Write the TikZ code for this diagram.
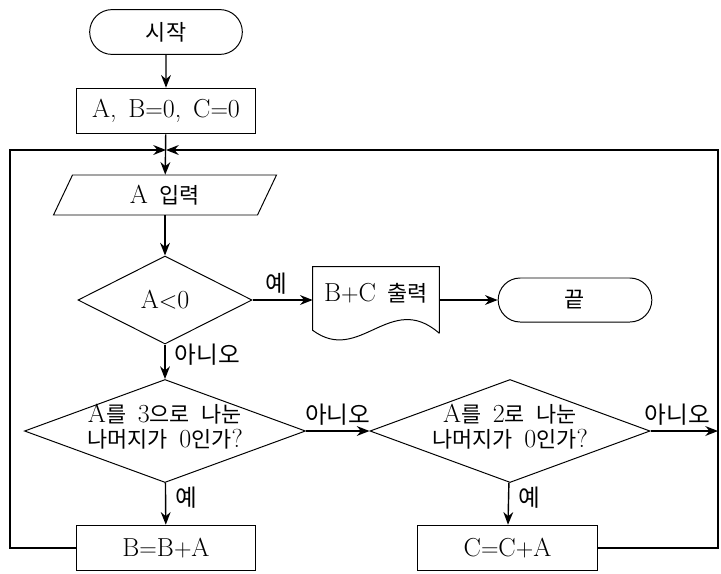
\documentclass[tikz,border=0pt]{standalone}
\usepackage{fontspec}
\setmainfont{Latin Modern Roman}[WordSpace=1.5]
\newfontfamily\kr{Noto Sans CJK KR}[Scale=0.84, WordSpace=1.5]
\newcommand{\hg}[1]{{\kr #1}}
\usepackage{tikz}
\usetikzlibrary{arrows.meta}
\usetikzlibrary{shapes.geometric}
\usetikzlibrary{shapes.misc}
\usetikzlibrary{calc}

\tikzset{
  term/.style={draw, rounded rectangle, line width=0.7pt, minimum width=4.05cm, minimum height=1.12cm},
  proc/.style={draw, rectangle, line width=0.7pt, minimum width=4.475cm, minimum height=1.14cm},
  dec/.style={draw, diamond, line width=0.7pt, inner sep=0pt},
  arr/.style={-{Stealth[length=9pt,width=7pt]}, line width=1pt},
  lbl/.style={font=\fontsize{20}{24}\selectfont\kr}
}

\begin{document}
\begin{tikzpicture}[x=0.025cm, y=-0.025cm, every node/.style={font=\fontsize{18.5}{18}\selectfont}]
        \useasboundingbox (0,0) rectangle (721,573);
        % main column
        \node[term] (start) at (166,32) {\hg{시작}};
        \node[proc] (init) at (166,111) {A, B$=$0, C$=$0};
        \node[minimum width=5.1cm, minimum height=1cm] (inp) at (165,195) {A \hg{입력}};
        \draw[line width=0.7pt] ($(inp)+(-92.5,-20)$) -- ($(inp)+(111.5,-20)$) -- ($(inp)+(92.5,20)$) -- ($(inp)+(-111.5,20)$) -- cycle;
        \node[dec, minimum width=4.35cm, minimum height=2.2cm] (d1) at (165,300) {A$<$0};
        \node[minimum width=3.15cm, minimum height=1.65cm] (out) at (376,300) {};
        \node at (376,293) {B$+$C \hg{출력}};
        \draw[line width=0.7pt] (out.south east) -- (out.north east) -- (out.north west) -- ($(out.south west)+(0,-3)$)
          .. controls ($(out.south west)+(47,32)$) and ($(out.south east)+(-49,-43)$) .. (out.south east);
        \node[term, minimum width=4.075cm, minimum height=1.1cm] (end) at (575,300) {\hg{끝}};
        % remainder tests
        \node[dec, minimum width=7.025cm, minimum height=2.575cm] (d2) at (165,431) {};
        \node[align=center] (q2) at (165,427) {A\hg{를} 3\hg{으로} \hg{나눈}\\\hg{나머지가} 0\hg{인가}?};
        \node[dec, minimum width=7cm, minimum height=2.575cm] (d3) at (510,431) {};
        \node[align=center] (q3) at (510,427) {A\hg{를} 2\hg{로} \hg{나눈}\\\hg{나머지가} 0\hg{인가}?};
        \node[proc] (bsum) at (166,548) {B$=$B$+$A};
        \node[proc] (csum) at (507.5,548) {C$=$C$+$A};
        \coordinate (join) at (166,150);
        \coordinate (loopL) at (10,150);
        \coordinate (loopR) at (718,150);
        \coordinate (exit) at (718,431);
        % connectors
        \draw[arr] (start) -- (init);
        \draw[arr] (init) -- (inp);
        \draw[arr] (inp.south) -- (d1);
        \draw[arr] (d1) -- node[lbl, above, pos=0.4] {예} (out);
        \draw[arr] (out) -- (end);
        \draw[arr] (d1) -- node[lbl, right, xshift=3pt, pos=0.3] {아니오} (d2);
        \draw[arr] (d2) -- node[lbl, above] {아니오} (d3);
        \draw[arr] (d3.east) -- node[lbl, above, pos=0.4] {아니오} (exit);
        \draw[arr] (d2) -- node[lbl, right, xshift=3pt, pos=0.35] {예} (bsum);
        \draw[arr] (d3) -- node[lbl, right, xshift=3pt, pos=0.35] {예} (csum);
        \draw[arr] (bsum.west) -| (loopL) -- (join);
        \draw[arr] (csum.east) -| (loopR) -- (join);
      \end{tikzpicture}
\end{document}
